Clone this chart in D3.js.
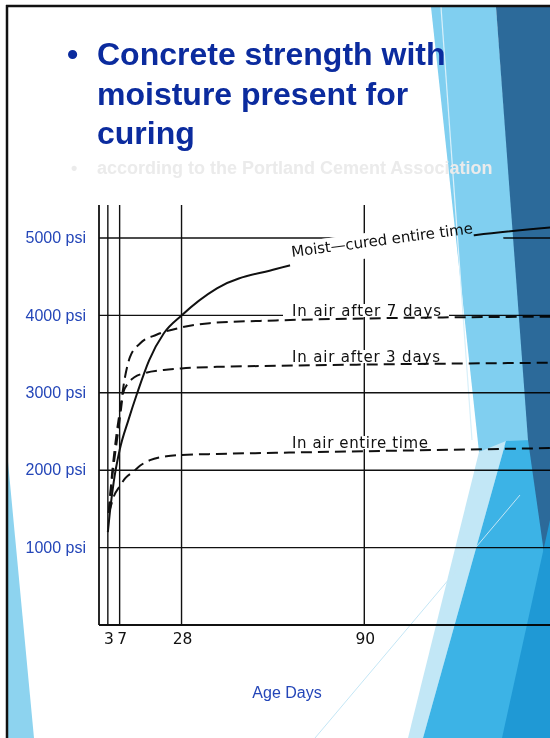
<!DOCTYPE html>
<html><head><meta charset="utf-8">
<script src="https://cdn.jsdelivr.net/npm/d3@7"></script>
<style>html,body{margin:0;padding:0;background:#fff;overflow:hidden}</style>
</head><body>
<script>
// ---------- data ----------
const yTickValues = [1000, 2000, 3000, 4000, 5000];
const yTickLabels = ["1000 psi", "2000 psi", "3000 psi", "4000 psi", "5000 psi"];
const xGridDays   = [0, 3, 7, 28, 90];
const xTickValues = [3, 7, 28, 90];
const xTickLabels = ["3", "7", "28", "90"];

const moistDays = [3, 3.7, 5, 7, 10, 13, 17, 22, 28, 40, 60, 90, 128, 160];
const moistPsi  = [1200, 1460, 1850, 2260, 2650, 3000, 3420, 3770, 4000, 4350, 4600, 4830, 5040, 5160];

const air7Days = [3.3, 4.5, 6, 7.3, 8.8, 10.5, 14, 19.5, 27.5, 37.5, 60, 90, 160];
const air7Psi  = [1450, 1980, 2480, 2820, 3200, 3460, 3640, 3750, 3840, 3900, 3935, 3960, 3985];

const air3Days = [3.3, 4.6, 6.2, 7.5, 8.2, 9.8, 12, 15.6, 22, 28, 40, 60, 90, 160];
const air3Psi  = [1450, 1950, 2420, 2800, 3000, 3120, 3200, 3255, 3295, 3315, 3335, 3348, 3365, 3390];

const airEntireDays = [3.3, 3.9, 5, 7, 9, 11.6, 14, 17.3, 22.9, 28, 40, 60, 90, 160];
const airEntirePsi  = [1450, 1520, 1660, 1790, 1900, 1980, 2060, 2130, 2180, 2196, 2210, 2225, 2245, 2290];

const seriesNames = ["Moist\u2014cured entire time", "In air after 7 days", "In air after 3 days", "In air entire time"];
const titleLines = ["Concrete strength with", "moisture present for", "curing"];
const subtitle = "according to the Portland Cement Association";
const xAxisTitle = "Age Days";

// ---------- setup ----------
const W = 550, H = 738;
const svg = d3.select("body").append("svg").attr("width", W).attr("height", H);
svg.append("rect").attr("width", W).attr("height", H).attr("fill", "#fff");

// decorative slide shapes
const deco = [
  {p: [[8,462],[8,738],[34,738]], c: "#8dd3ef"},
  {p: [[431,7],[496,7],[530,440],[479,452]], c: "#80cff0"},
  {p: [[479,452],[506,441],[423,738],[408,738]], c: "#c2e7f6"},
  {p: [[506,441],[530,440],[550,470],[550,738],[423,738]], c: "#3cb3e6"},
  {p: [[496,7],[550,7],[550,595],[528,440]], c: "#2c6a9a"},
  {p: [[550,520],[550,738],[502,738]], c: "#1f99d5"}
];
svg.selectAll("polygon.deco").data(deco).join("polygon").attr("class","deco")
  .attr("points", d => d.p.map(q => q.join(",")).join(" "))
  .attr("fill", d => d.c);
svg.append("line").attr("x1",520).attr("y1",495).attr("x2",315).attr("y2",738)
  .attr("stroke","#c4e6f5").attr("stroke-width",1);
svg.append("line").attr("x1",441).attr("y1",7).attr("x2",472).attr("y2",440)
  .attr("stroke","#d8f0fa").attr("stroke-width",1.2);

// slide border
svg.append("line").attr("x1",6).attr("y1",6).attr("x2",550).attr("y2",6).attr("stroke","#111").attr("stroke-width",2.5);
svg.append("line").attr("x1",7).attr("y1",5).attr("x2",7).attr("y2",738).attr("stroke","#111").attr("stroke-width",2.5);

// ---------- chart (multiplied over the slide, like a scanned image) ----------
const x = d3.scaleLinear().domain([0, 153]).range([99, 550]);
const y = d3.scaleLinear().domain([0, 5000]).range([625, 238]);
const ink = "#111";
const g = svg.append("g").style("mix-blend-mode", "multiply").style("isolation","isolate");

// horizontal gridlines + baseline
g.selectAll("line.hg").data([0, ...yTickValues]).join("line").attr("class","hg")
  .attr("x1", x(0)).attr("x2", x(153)).attr("y1", d=>y(d)).attr("y2", d=>y(d))
  .attr("stroke", ink).attr("stroke-width", d => d===0 ? 1.8 : 1.4);
// vertical gridlines
g.selectAll("line.vg").data(xGridDays).join("line").attr("class","vg")
  .attr("x1", d=>x(d)).attr("x2", d=>x(d)).attr("y1", y(5425)).attr("y2", y(0))
  .attr("stroke", ink).attr("stroke-width", d => d===0 ? 1.8 : 1.4);

// label masks hiding gridlines
const moistLab = {x: 292, y: 257, a: -7.5, len: 183};
const labs = [
  {x: 292, y: 316, len: 149},
  {x: 292, y: 362, len: 148},
  {x: 292, y: 448, len: 136}
];
g.append("rect").attr("transform",`translate(${moistLab.x},${moistLab.y}) rotate(${moistLab.a})`)
  .attr("x",-3).attr("y",-14).attr("width",215).attr("height",25).attr("fill","#fff");
g.selectAll("rect.lm").data(labs).join("rect").attr("class","lm")
  .attr("x", d=>d.x-9).attr("y", d=>d.y-12).attr("width", d=>d.len+17).attr("height",13)
  .attr("fill","#fff");

// curves
const line = d3.line().x(d=>x(d[0])).y(d=>y(d[1])).curve(d3.curveMonotoneX);
const zip = (a,b) => a.map((v,i)=>[v,b[i]]);
const curves = [
  {pts: zip(moistDays, moistPsi), dash: null},
  {pts: zip(air7Days, air7Psi), dash: "11,6"},
  {pts: zip(air3Days, air3Psi), dash: "11,6"},
  {pts: zip(airEntireDays, airEntirePsi), dash: "11,6"}
];
g.selectAll("path.cv").data(curves).join("path").attr("class","cv")
  .attr("d", d=>line(d.pts)).attr("fill","none").attr("stroke",ink)
  .attr("stroke-width",2).attr("stroke-dasharray", d=>d.dash);

// mask hiding moist curve under its label
g.append("rect").attr("transform",`translate(${moistLab.x},${moistLab.y}) rotate(${moistLab.a})`)
  .attr("x",-3).attr("y",-14).attr("width",186).attr("height",25).attr("fill","#fff");

// labels
const labFont = "DejaVu Sans, sans-serif";
g.append("text").attr("transform",`translate(${moistLab.x},${moistLab.y}) rotate(${moistLab.a})`)
  .attr("font-family",labFont).attr("font-size",15).attr("fill",ink)
  .attr("textLength",moistLab.len).attr("lengthAdjust","spacing").text(seriesNames[0]);
g.selectAll("text.sl").data(labs).join("text").attr("class","sl")
  .attr("x",d=>d.x).attr("y",d=>d.y).attr("font-family",labFont).attr("font-size",15).attr("fill",ink)
  .attr("textLength",d=>d.len).attr("lengthAdjust","spacing").text((d,i)=>seriesNames[i+1]);

// x tick labels
g.selectAll("text.xt").data(xTickValues).join("text").attr("class","xt")
  .attr("x", (d,i)=> x(d) + (d===7 ? 2.5 : 1)).attr("y", 644).attr("text-anchor","middle")
  .attr("font-family",labFont).attr("font-size",15.5).attr("fill",ink)
  .text((d,i)=>xTickLabels[i]);

// ---------- slide texts ----------
const titleCol = "#0b2b9e";
svg.append("text").attr("x", 67).attr("y", 65).attr("font-family","Liberation Sans, Arial, sans-serif")
  .attr("font-weight","bold").attr("font-size",32).attr("fill",titleCol).text("\u2022");
svg.append("text").attr("font-family","Liberation Sans, Arial, sans-serif").attr("font-weight","bold")
  .attr("font-size",32).attr("fill",titleCol)
  .selectAll("tspan").data(titleLines).join("tspan")
  .attr("x",97).attr("y",(d,i)=>65+i*39.5).text(d=>d);
svg.append("text").attr("x",71).attr("y",174).attr("font-family","Liberation Sans, Arial, sans-serif")
  .attr("font-weight","bold").attr("font-size",18).attr("fill","#ebebeb").text("\u2022");
svg.append("text").attr("x",97).attr("y",174).attr("font-family","Liberation Sans, Arial, sans-serif")
  .attr("font-weight","bold").attr("font-size",18).attr("fill","#ebebeb").text(subtitle);

const blue = "#2446b8";
svg.selectAll("text.yt").data(yTickValues).join("text").attr("class","yt")
  .attr("x", 86).attr("y", d=>y(d)).attr("dy","0.33em").attr("text-anchor","end")
  .attr("font-family","Liberation Sans, Arial, sans-serif").attr("font-size",16).attr("fill",blue)
  .text((d,i)=>yTickLabels[i]);
svg.append("text").attr("x",287).attr("y",698).attr("text-anchor","middle")
  .attr("font-family","Liberation Sans, Arial, sans-serif").attr("font-size",16).attr("fill",blue)
  .text(xAxisTitle);
</script>
</body></html>
